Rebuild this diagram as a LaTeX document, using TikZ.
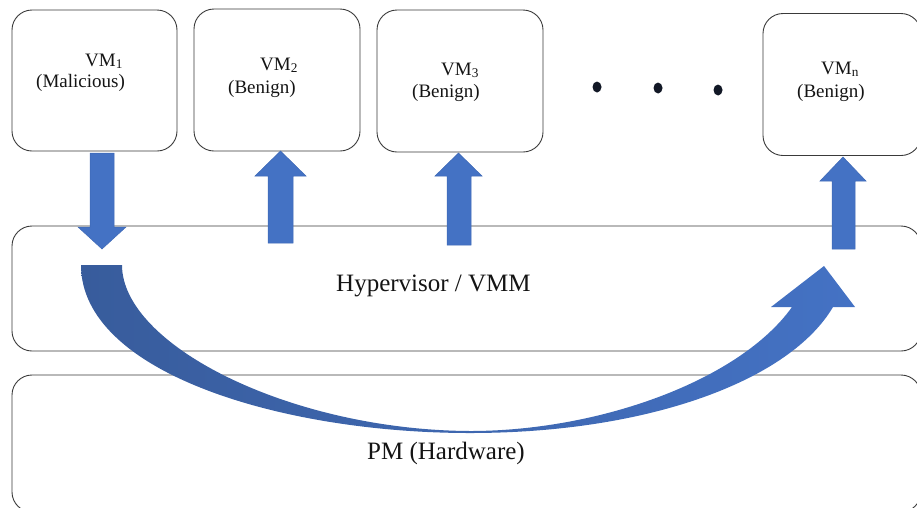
\documentclass[tikz,border=0pt]{standalone}
\usepackage{fontspec}
\setmainfont{Liberation Serif}
\definecolor{arrowblue}{HTML}{4472C4}
\definecolor{arrowedge}{HTML}{3D68B5}
\definecolor{curvedark}{HTML}{385C9C}
\definecolor{dotink}{HTML}{121826}
\definecolor{boxline}{HTML}{3A3A3A}
\begin{document}
\begin{tikzpicture}[x=1pt,y=-1pt,
  vmbox/.style={draw=boxline, line width=0.9pt, rounded corners=20pt, inner sep=0pt},
  lbl/.style={anchor=base west, inner sep=0pt, text=black!92, font=\fontsize{19}{22}\selectfont},
  biglbl/.style={anchor=base west, inner sep=0pt, text=black!92, font=\fontsize{25}{30}\selectfont},
  blk/.style={fill=arrowblue, draw=arrowedge, line width=0.5pt},
  dotmark/.style={fill=dotink, draw=none}]
\useasboundingbox (0,0) rectangle (917,507);
\clip (0,0) rectangle (917,507);

% layers
\node[vmbox, minimum width=909pt, minimum height=125pt] (hv) at (466.5,288.5) {};
\node[vmbox, minimum width=909pt, minimum height=137pt] (pm) at (466.5,443.5) {};

% virtual machines
\node[vmbox, minimum width=165pt, minimum height=141pt] (vm1) at (94.5,80.5) {};
\node[vmbox, minimum width=166pt, minimum height=142pt] (vm2) at (277,80) {};
\node[vmbox, minimum width=166pt, minimum height=142pt] (vm3) at (460,81) {};
\node[vmbox, minimum width=158pt, minimum height=142pt] (vmn) at (842,84.5) {};

% labels
\node[lbl] (t1a) at (85,66) {VM\textsubscript{1}};
\node[lbl] (t1b) at (36,87) {(Malicious)};
\node[lbl] (t2a) at (260,70) {VM\textsubscript{2}};
\node[lbl] (t2b) at (228,93) {(Benign)};
\node[lbl] (t3a) at (441,75) {VM\textsubscript{3}};
\node[lbl] (t3b) at (412,97) {(Benign)};
\node[lbl] (tna) at (821,74) {VM\textsubscript{n}};
\node[lbl] (tnb) at (797,97) {(Benign)};
\node[biglbl] (thv) at (336,291) {Hypervisor / VMM};
\node[biglbl] (tpm) at (367,459) {PM (Hardware)};

% ellipsis dots
\fill[dotmark] (597,87) ellipse [x radius=4.5pt, y radius=5.5pt];
\fill[dotmark] (658,88) ellipse [x radius=4.5pt, y radius=5.5pt];
\fill[dotmark] (718,90) ellipse [x radius=4.5pt, y radius=5.5pt];

% block arrows between VMs and the hypervisor
\draw[blk] (90,153) -- (114,153) -- (114,227) -- (126,227) -- (102,249) -- (78,227) -- (90,227) -- cycle;
\draw[blk] (268,243) -- (268,176) -- (255,176) -- (280.5,151) -- (306,176) -- (293,176) -- (293,243) -- cycle;
\draw[blk] (447,245) -- (447,176) -- (435,176) -- (458.5,153) -- (482,176) -- (471,176) -- (471,245) -- cycle;
\draw[blk] (832,249) -- (832,181) -- (820,181) -- (843,157) -- (866,181) -- (855,181) -- (855,249) -- cycle;

% curved arrow through the hypervisor from VM1 to VMn
\shade[left color=curvedark, right color=arrowblue]
  (81,265) .. controls (81,372) and (280,433) .. (470,433)
  .. controls (650,433) and (790,380) .. (833,307)
  -- (855,307) -- (824,266) -- (771,307) -- (792,307)
  .. controls (740,380) and (600,431) .. (470,431)
  .. controls (290,430) and (122,345) .. (122,265) -- cycle;
\end{tikzpicture}
\end{document}
